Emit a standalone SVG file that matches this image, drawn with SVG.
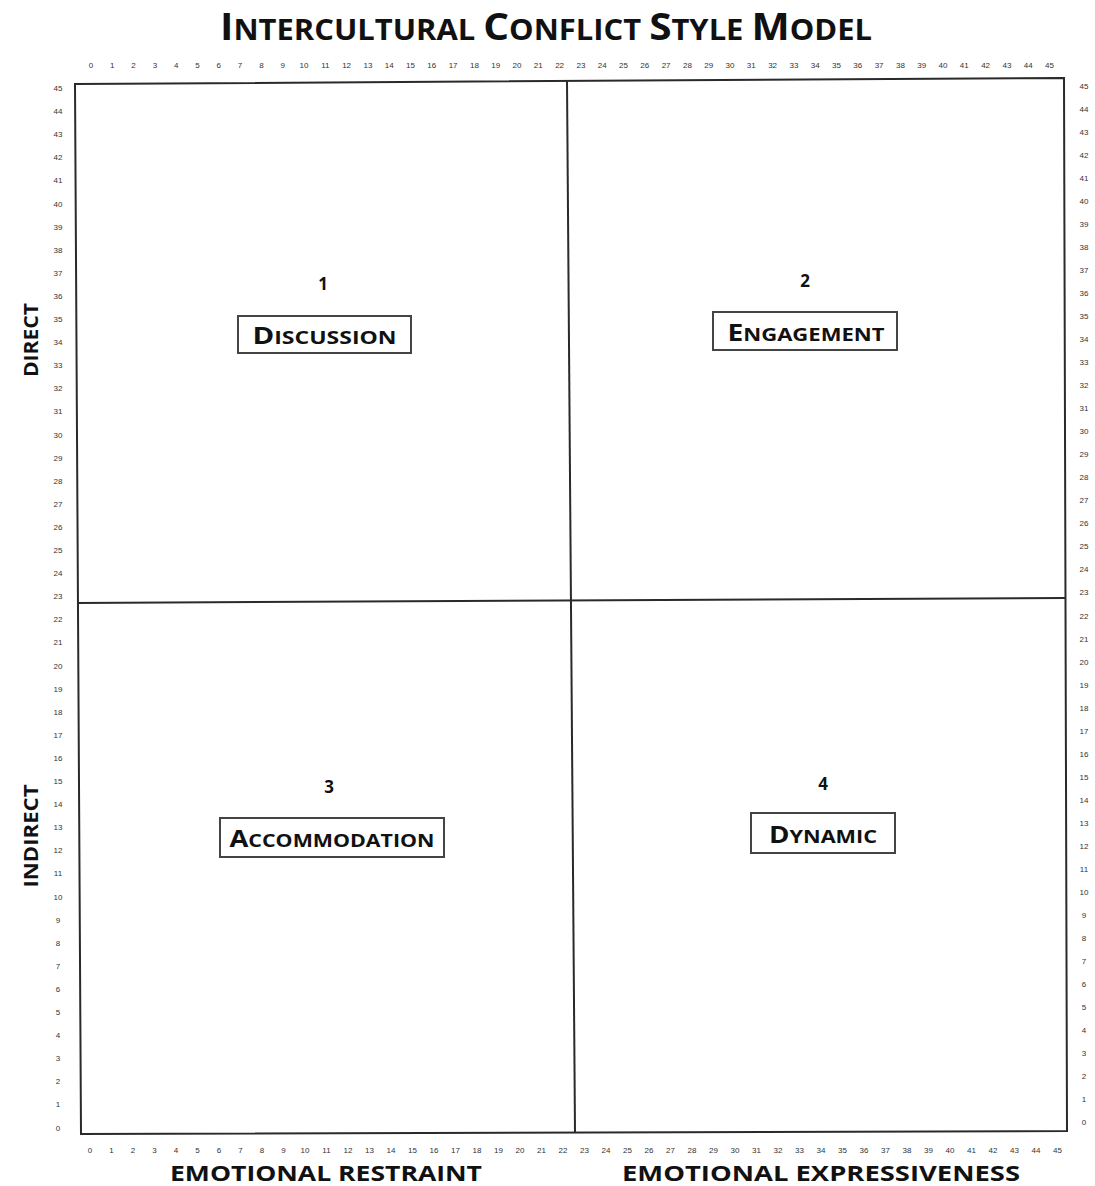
<svg xmlns="http://www.w3.org/2000/svg" width="1095" height="1186" viewBox="0 0 1095 1186">
<style>
text{font-family:"Open Sans","Liberation Sans",sans-serif;fill:#111}
.t{font-weight:bold}
.n{font-family:"Liberation Sans",sans-serif;font-size:8px;fill:#333;text-anchor:middle}
.lab{font-weight:bold;text-anchor:middle}
.box{fill:#fff;stroke:#444;stroke-width:2}
.ln{fill:none;stroke:#2a2a2a;stroke-width:2}
</style>
<rect width="1095" height="1186" fill="#fff"/>
<g id="title">
<text class="t" x="546" y="40" text-anchor="middle" textLength="652" lengthAdjust="spacingAndGlyphs"><tspan font-size="38">I</tspan><tspan font-size="29">NTERCULTURAL </tspan><tspan font-size="38">C</tspan><tspan font-size="29">ONFLICT </tspan><tspan font-size="38">S</tspan><tspan font-size="29">TYLE </tspan><tspan font-size="38">M</tspan><tspan font-size="29">ODEL</tspan></text>
</g>
<g id="grid">
<path class="ln" d="M75,84 L1064,78 L1067,1131 L81,1134 Z"/>
<path class="ln" d="M567,81 L575,1133"/>
<path class="ln" d="M77,603 L1065,598"/>
</g>
<g id="axis-top">
<text class="n" x="91" y="68">0</text><text class="n" x="112.3" y="68">1</text><text class="n" x="133.6" y="68">2</text><text class="n" x="154.9" y="68">3</text><text class="n" x="176.2" y="68">4</text><text class="n" x="197.5" y="68">5</text><text class="n" x="218.8" y="68">6</text><text class="n" x="240.1" y="68">7</text><text class="n" x="261.4" y="68">8</text><text class="n" x="282.7" y="68">9</text><text class="n" x="304" y="68">10</text><text class="n" x="325.3" y="68">11</text><text class="n" x="346.6" y="68">12</text><text class="n" x="367.9" y="68">13</text><text class="n" x="389.2" y="68">14</text><text class="n" x="410.5" y="68">15</text><text class="n" x="431.8" y="68">16</text><text class="n" x="453.1" y="68">17</text><text class="n" x="474.4" y="68">18</text><text class="n" x="495.7" y="68">19</text><text class="n" x="517" y="68">20</text><text class="n" x="538.3" y="68">21</text><text class="n" x="559.6" y="68">22</text><text class="n" x="580.9" y="68">23</text><text class="n" x="602.2" y="68">24</text><text class="n" x="623.5" y="68">25</text><text class="n" x="644.8" y="68">26</text><text class="n" x="666.1" y="68">27</text><text class="n" x="687.4" y="68">28</text><text class="n" x="708.7" y="68">29</text><text class="n" x="730" y="68">30</text><text class="n" x="751.3" y="68">31</text><text class="n" x="772.6" y="68">32</text><text class="n" x="793.9" y="68">33</text><text class="n" x="815.2" y="68">34</text><text class="n" x="836.5" y="68">35</text><text class="n" x="857.8" y="68">36</text><text class="n" x="879.1" y="68">37</text><text class="n" x="900.4" y="68">38</text><text class="n" x="921.7" y="68">39</text><text class="n" x="943" y="68">40</text><text class="n" x="964.3" y="68">41</text><text class="n" x="985.6" y="68">42</text><text class="n" x="1006.9" y="68">43</text><text class="n" x="1028.2" y="68">44</text><text class="n" x="1049.5" y="68">45</text>
</g>
<g id="axis-bottom">
<text class="n" x="90" y="1153">0</text><text class="n" x="111.5" y="1153">1</text><text class="n" x="133" y="1153">2</text><text class="n" x="154.5" y="1153">3</text><text class="n" x="176" y="1153">4</text><text class="n" x="197.5" y="1153">5</text><text class="n" x="219" y="1153">6</text><text class="n" x="240.5" y="1153">7</text><text class="n" x="262" y="1153">8</text><text class="n" x="283.5" y="1153">9</text><text class="n" x="305" y="1153">10</text><text class="n" x="326.5" y="1153">11</text><text class="n" x="348" y="1153">12</text><text class="n" x="369.5" y="1153">13</text><text class="n" x="391" y="1153">14</text><text class="n" x="412.5" y="1153">15</text><text class="n" x="434" y="1153">16</text><text class="n" x="455.5" y="1153">17</text><text class="n" x="477" y="1153">18</text><text class="n" x="498.5" y="1153">19</text><text class="n" x="520" y="1153">20</text><text class="n" x="541.5" y="1153">21</text><text class="n" x="563" y="1153">22</text><text class="n" x="584.5" y="1153">23</text><text class="n" x="606" y="1153">24</text><text class="n" x="627.5" y="1153">25</text><text class="n" x="649" y="1153">26</text><text class="n" x="670.5" y="1153">27</text><text class="n" x="692" y="1153">28</text><text class="n" x="713.5" y="1153">29</text><text class="n" x="735" y="1153">30</text><text class="n" x="756.5" y="1153">31</text><text class="n" x="778" y="1153">32</text><text class="n" x="799.5" y="1153">33</text><text class="n" x="821" y="1153">34</text><text class="n" x="842.5" y="1153">35</text><text class="n" x="864" y="1153">36</text><text class="n" x="885.5" y="1153">37</text><text class="n" x="907" y="1153">38</text><text class="n" x="928.5" y="1153">39</text><text class="n" x="950" y="1153">40</text><text class="n" x="971.5" y="1153">41</text><text class="n" x="993" y="1153">42</text><text class="n" x="1014.5" y="1153">43</text><text class="n" x="1036" y="1153">44</text><text class="n" x="1057.5" y="1153">45</text>
</g>
<g id="axis-left">
<text class="n" x="58" y="91">45</text><text class="n" x="58" y="114.1">44</text><text class="n" x="58" y="137.2">43</text><text class="n" x="58" y="160.3">42</text><text class="n" x="58" y="183.4">41</text><text class="n" x="58" y="206.5">40</text><text class="n" x="58" y="229.6">39</text><text class="n" x="58" y="252.7">38</text><text class="n" x="58" y="275.8">37</text><text class="n" x="58" y="298.9">36</text><text class="n" x="58" y="322">35</text><text class="n" x="58" y="345.1">34</text><text class="n" x="58" y="368.2">33</text><text class="n" x="58" y="391.3">32</text><text class="n" x="58" y="414.4">31</text><text class="n" x="58" y="437.5">30</text><text class="n" x="58" y="460.6">29</text><text class="n" x="58" y="483.7">28</text><text class="n" x="58" y="506.8">27</text><text class="n" x="58" y="529.9">26</text><text class="n" x="58" y="553">25</text><text class="n" x="58" y="576.1">24</text><text class="n" x="58" y="599.2">23</text><text class="n" x="58" y="622.3">22</text><text class="n" x="58" y="645.4">21</text><text class="n" x="58" y="668.5">20</text><text class="n" x="58" y="691.6">19</text><text class="n" x="58" y="714.7">18</text><text class="n" x="58" y="737.8">17</text><text class="n" x="58" y="760.9">16</text><text class="n" x="58" y="784">15</text><text class="n" x="58" y="807.1">14</text><text class="n" x="58" y="830.2">13</text><text class="n" x="58" y="853.3">12</text><text class="n" x="58" y="876.4">11</text><text class="n" x="58" y="899.5">10</text><text class="n" x="58" y="922.6">9</text><text class="n" x="58" y="945.7">8</text><text class="n" x="58" y="968.8">7</text><text class="n" x="58" y="991.9">6</text><text class="n" x="58" y="1015">5</text><text class="n" x="58" y="1038.1">4</text><text class="n" x="58" y="1061.2">3</text><text class="n" x="58" y="1084.3">2</text><text class="n" x="58" y="1107.4">1</text><text class="n" x="58" y="1130.5">0</text>
</g>
<g id="axis-right">
<text class="n" x="1084" y="89">45</text><text class="n" x="1084" y="112">44</text><text class="n" x="1084" y="135">43</text><text class="n" x="1084" y="158.1">42</text><text class="n" x="1084" y="181.1">41</text><text class="n" x="1084" y="204.1">40</text><text class="n" x="1084" y="227.1">39</text><text class="n" x="1084" y="250.1">38</text><text class="n" x="1084" y="273.2">37</text><text class="n" x="1084" y="296.2">36</text><text class="n" x="1084" y="319.2">35</text><text class="n" x="1084" y="342.2">34</text><text class="n" x="1084" y="365.2">33</text><text class="n" x="1084" y="388.3">32</text><text class="n" x="1084" y="411.3">31</text><text class="n" x="1084" y="434.3">30</text><text class="n" x="1084" y="457.3">29</text><text class="n" x="1084" y="480.3">28</text><text class="n" x="1084" y="503.4">27</text><text class="n" x="1084" y="526.4">26</text><text class="n" x="1084" y="549.4">25</text><text class="n" x="1084" y="572.4">24</text><text class="n" x="1084" y="595.4">23</text><text class="n" x="1084" y="618.5">22</text><text class="n" x="1084" y="641.5">21</text><text class="n" x="1084" y="664.5">20</text><text class="n" x="1084" y="687.5">19</text><text class="n" x="1084" y="710.5">18</text><text class="n" x="1084" y="733.6">17</text><text class="n" x="1084" y="756.6">16</text><text class="n" x="1084" y="779.6">15</text><text class="n" x="1084" y="802.6">14</text><text class="n" x="1084" y="825.6">13</text><text class="n" x="1084" y="848.7">12</text><text class="n" x="1084" y="871.7">11</text><text class="n" x="1084" y="894.7">10</text><text class="n" x="1084" y="917.7">9</text><text class="n" x="1084" y="940.7">8</text><text class="n" x="1084" y="963.8">7</text><text class="n" x="1084" y="986.8">6</text><text class="n" x="1084" y="1009.8">5</text><text class="n" x="1084" y="1032.8">4</text><text class="n" x="1084" y="1055.8">3</text><text class="n" x="1084" y="1078.9">2</text><text class="n" x="1084" y="1101.9">1</text><text class="n" x="1084" y="1124.9">0</text>
</g>
<g id="axis-labels">
<text class="lab" font-size="20" transform="translate(38,340) rotate(-90)" textLength="74" lengthAdjust="spacingAndGlyphs">DIRECT</text>
<text class="lab" font-size="20" transform="translate(38,836) rotate(-90)" textLength="103" lengthAdjust="spacingAndGlyphs">INDIRECT</text>
<text class="lab" font-size="22" x="326" y="1181" textLength="312" lengthAdjust="spacingAndGlyphs">EMOTIONAL RESTRAINT</text>
<text class="lab" font-size="22" x="821" y="1181" textLength="398" lengthAdjust="spacingAndGlyphs">EMOTIONAL EXPRESSIVENESS</text>
</g>
<g id="q1-discussion">
<text class="lab" font-size="17" x="323" y="290">1</text>
<rect class="box" x="238" y="316" width="173" height="37"/>
<text class="lab" x="324.5" y="344" textLength="144" lengthAdjust="spacingAndGlyphs"><tspan font-size="23">D</tspan><tspan font-size="18">ISCUSSION</tspan></text>
</g>
<g id="q2-engagement">
<text class="lab" font-size="17" x="805" y="287">2</text>
<rect class="box" x="713" y="312" width="184" height="38"/>
<text class="lab" x="806" y="341" textLength="157" lengthAdjust="spacingAndGlyphs"><tspan font-size="23">E</tspan><tspan font-size="18">NGAGEMENT</tspan></text>
</g>
<g id="q3-accommodation">
<text class="lab" font-size="17" x="329" y="793">3</text>
<rect class="box" x="220" y="818" width="224" height="39"/>
<text class="lab" x="332" y="847" textLength="205" lengthAdjust="spacingAndGlyphs"><tspan font-size="23">A</tspan><tspan font-size="18">CCOMMODATION</tspan></text>
</g>
<g id="q4-dynamic">
<text class="lab" font-size="17" x="823" y="790">4</text>
<rect class="box" x="751" y="813" width="144" height="40"/>
<text class="lab" x="823" y="843" textLength="108" lengthAdjust="spacingAndGlyphs"><tspan font-size="23">D</tspan><tspan font-size="18">YNAMIC</tspan></text>
</g>
</svg>
